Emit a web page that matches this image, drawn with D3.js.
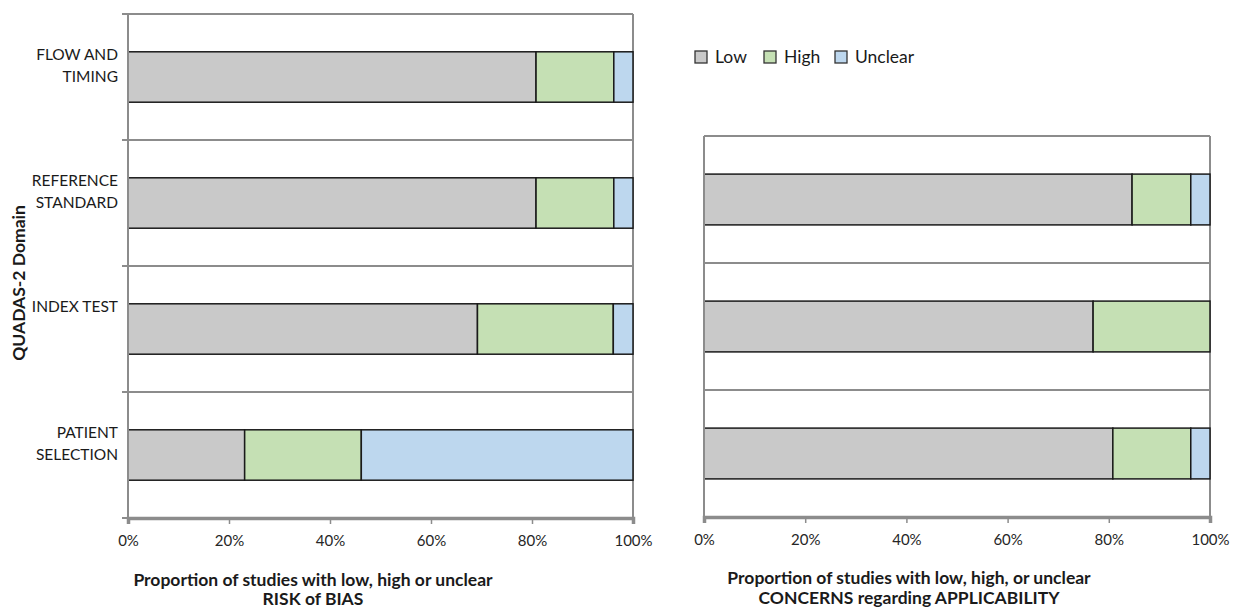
<!DOCTYPE html>
<html>
<head>
<meta charset="utf-8">
<script src="https://cdn.jsdelivr.net/npm/d3@7"></script>
<style>
  body { margin: 0; background: #fff; }
  svg { font-family: Lato, "Open Sans", sans-serif; }
</style>
</head>
<body>
<div id="chart"></div>
<script>
// QUADAS-2 summary, proportions of 26 studies (%)
const categories = ["Low", "High", "Unclear"];

const biasDomains = ["FLOW AND TIMING", "REFERENCE STANDARD", "INDEX TEST", "PATIENT SELECTION"];
const biasLow = [80.8, 80.8, 69.2, 23.1];
const biasHigh = [15.4, 15.4, 26.9, 23.1];
const biasUnclear = [3.8, 3.8, 3.9, 53.8];

const appDomains = ["REFERENCE STANDARD", "INDEX TEST", "PATIENT SELECTION"];
const appLow = [84.6, 76.9, 80.8];
const appHigh = [11.6, 23.1, 15.4];
const appUnclear = [3.8, 0, 3.8];

const xTicks = [0, 20, 40, 60, 80, 100];

const labelLines = {
  "FLOW AND TIMING": ["FLOW AND", "TIMING"],
  "REFERENCE STANDARD": ["REFERENCE", "STANDARD"],
  "INDEX TEST": ["INDEX TEST"],
  "PATIENT SELECTION": ["PATIENT", "SELECTION"]
};

const width = 1235, height = 610;

const color = d3.scaleOrdinal()
  .domain(categories)
  .range(["#c9c9c9", "#c5e0b4", "#bdd7ee"]);

const svg = d3.select("#chart").append("svg")
  .attr("width", width)
  .attr("height", height);

function drawPanel(domains, low, high, unclear, x0, x1, y0, y1, showLabels) {
  const x = d3.scaleLinear().domain([0, 100]).range([x0, x1]);
  const y = d3.scaleBand().domain(domains).range([y0, y1]).padding(0);
  const g = svg.append("g");

  // band boundaries
  const bounds = domains.map(d => y(d)).concat([y1]);
  g.selectAll("line.grid")
    .data(bounds)
    .join("line")
      .attr("x1", x0).attr("x2", x1)
      .attr("y1", d => d).attr("y2", d => d)
      .attr("stroke", "#8c8c8c")
      .attr("stroke-width", 2);

  // right border
  g.append("line")
    .attr("x1", x1).attr("x2", x1)
    .attr("y1", y0).attr("y2", y1)
    .attr("stroke", "#8c8c8c")
    .attr("stroke-width", 2);

  // stacked segments
  const rows = domains.map((d, i) => ({ domain: d, Low: low[i], High: high[i], Unclear: unclear[i] }));
  const stacked = d3.stack().keys(categories)(rows);
  const barH = y.bandwidth() * 0.4;

  g.append("g")
    .selectAll("g")
    .data(stacked)
    .join("g")
      .attr("fill", s => color(s.key))
    .selectAll("rect")
    .data(s => s.filter(p => p[1] - p[0] > 0))
    .join("rect")
      .attr("x", p => x(p[0]))
      .attr("y", p => y(p.data.domain) + (y.bandwidth() - barH) / 2)
      .attr("width", p => x(p[1]) - x(p[0]))
      .attr("height", barH)
      .attr("stroke", "#1a1a1a")
      .attr("stroke-width", 1.5);

  // left axis line + ticks at band edges
  g.append("line")
    .attr("x1", x0).attr("x2", x0)
    .attr("y1", y0).attr("y2", y1 + 4)
    .attr("stroke", "#8c8c8c")
    .attr("stroke-width", 2);

  if (showLabels) {
    g.selectAll("line.ytick")
      .data(bounds)
      .join("line")
        .attr("x1", x0 - 6).attr("x2", x0)
        .attr("y1", d => d).attr("y2", d => d)
        .attr("stroke", "#8c8c8c")
        .attr("stroke-width", 2);

    const lab = g.selectAll("text.ylab")
      .data(domains)
      .join("text")
        .attr("text-anchor", "end")
        .style("font-size", "15.5px")
        .style("fill", "#1a1a1a");
    lab.each(function(d) {
      const t = d3.select(this);
      const c = y(d) + y.bandwidth() / 2;
      labelLines[d].forEach((ln, i) => {
        t.append("tspan")
          .attr("x", x0 - 10)
          .attr("y", c - 22.5 + i * 22.5)
          .attr("dy", "0.35em")
          .text(ln);
      });
    });
  }

  // bottom axis
  const ax = g.append("g")
    .attr("transform", `translate(0,${y1})`)
    .call(d3.axisBottom(x).tickValues(xTicks).tickSize(6).tickFormat(d => d + "%"));
  ax.select(".domain").attr("stroke", "#8c8c8c").attr("stroke-width", 3.5);
  ax.selectAll(".tick line").attr("stroke", "#8c8c8c").attr("stroke-width", 1.5);
  ax.selectAll(".tick text")
    .attr("y", 17)
    .style("font-family", "Lato, sans-serif")
    .style("font-size", "15px")
    .style("fill", "#262626");
  return x;
}

drawPanel(biasDomains, biasLow, biasHigh, biasUnclear, 128, 633, 14, 518, true);
drawPanel(appDomains, appLow, appHigh, appUnclear, 704, 1210, 136, 517, false);

// axis titles
function title(cx, lines, ys) {
  lines.forEach((t, i) => {
    svg.append("text")
      .attr("x", cx).attr("y", ys[i])
      .attr("dy", "0.35em")
      .attr("text-anchor", "middle")
      .style("font-weight", "bold")
      .style("font-size", "17.5px")
      .style("fill", "#1a1a1a")
      .text(t);
  });
}
title(313, ["Proportion of studies with low, high or unclear", "RISK of BIAS"], [580, 599]);
title(909, ["Proportion of studies with low, high, or unclear", "CONCERNS regarding APPLICABILITY"], [578, 598]);

svg.append("text")
  .attr("transform", "translate(19,283) rotate(-90)")
  .attr("dy", "0.35em")
  .attr("text-anchor", "middle")
  .style("font-weight", "bold")
  .style("font-size", "17.5px")
  .style("fill", "#1a1a1a")
  .text("QUADAS-2 Domain");

// legend
const legendX = [695, 764, 835];
const leg = svg.append("g").selectAll("g")
  .data(categories)
  .join("g")
    .attr("transform", (d, i) => `translate(${legendX[i]},57)`);
leg.append("rect")
  .attr("x", 0).attr("y", -6)
  .attr("width", 12).attr("height", 12)
  .attr("fill", d => color(d))
  .attr("stroke", "#333")
  .attr("stroke-width", 1.3);
leg.append("text")
  .attr("x", 20).attr("dy", "0.35em")
  .style("font-size", "17.5px")
  .style("fill", "#1a1a1a")
  .text(d => d);
</script>
</body>
</html>
